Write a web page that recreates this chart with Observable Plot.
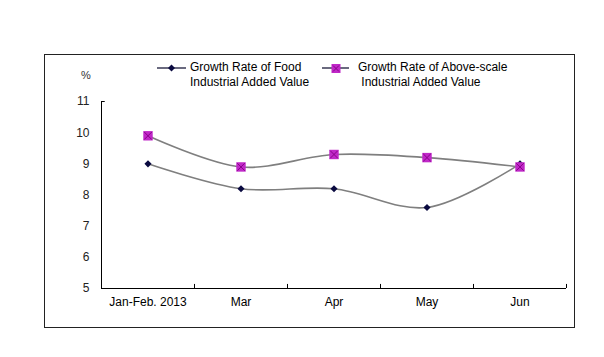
<!DOCTYPE html>
<html>
<head>
<meta charset="utf-8">
<script src="https://cdn.jsdelivr.net/npm/d3@7"></script>
<script src="https://cdn.jsdelivr.net/npm/@observablehq/plot@0.6"></script>
<style>
  html, body { margin: 0; padding: 0; background: #fff; }
  #wrap { position: relative; width: 604px; height: 357px; font-family: "Liberation Sans", Arial, sans-serif; }
  #box { position: absolute; left: 44px; top: 54px; width: 529px; height: 272px; border: 1px solid #222; box-sizing: content-box; pointer-events: none; }
  #chart { position: absolute; left: 0; top: 0; }
  .leg { position: absolute; font-size: 12px; line-height: 15px; color: #000; }
  .unit { position: absolute; left: 81px; top: 69px; font-size: 11px; color: #333; }
</style>
</head>
<body>
<div id="wrap">
  <div id="chart"></div>
  <div id="box"></div>
  <div class="unit">%</div>
  <div class="leg" style="left:157px; top:60px;">
    <svg width="30" height="14" style="position:absolute; left:0; top:1px;">
      <line x1="0" y1="7" x2="29" y2="7" stroke="#1a1a3a" stroke-width="1.3"/>
      <path d="M14.5 3.5 L18 7 L14.5 10.5 L11 7 Z" fill="#0a0a40"/>
    </svg>
    <div style="position:absolute; left:33px; top:0; white-space:nowrap;">Growth Rate of Food<br>Industrial Added Value</div>
  </div>
  <div class="leg" style="left:322px; top:60px;">
    <svg width="28" height="14" style="position:absolute; left:0; top:1px;">
      <line x1="0" y1="7" x2="27" y2="7" stroke="#1a1a3a" stroke-width="1.3"/>
      <rect x="9.5" y="3" width="9" height="9" fill="#c028c8"/>
      <path d="M11 4.5 L17 10.5 M17 4.5 L11 10.5" stroke="#8a008a" stroke-width="1"/>
    </svg>
    <div style="position:absolute; left:36px; top:0; white-space:nowrap;">Growth Rate of Above-scale<br>&nbsp;Industrial Added Value</div>
  </div>
</div>
<script>
const categories = ["Jan-Feb. 2013", "Mar", "Apr", "May", "Jun"];
const foodGrowth = [9.0, 8.2, 8.2, 7.6, 9.0];
const aboveScaleGrowth = [9.9, 8.9, 9.3, 9.2, 8.9];
const yTicks = [5, 6, 7, 8, 9, 10, 11];

const food = categories.map((c, i) => ({i, c, v: foodGrowth[i]}));
const above = categories.map((c, i) => ({i, c, v: aboveScaleGrowth[i]}));
const boundaries = categories.map((c, i) => i + 0.5);

const plot = Plot.plot({
  width: 604,
  height: 357,
  marginLeft: 101,
  marginRight: 38,
  marginTop: 101,
  marginBottom: 69,
  style: {fontFamily: "Liberation Sans, Arial, sans-serif", fontSize: "11px", background: "transparent", color: "#000"},
  x: {domain: [-0.5, categories.length - 0.5]},
  y: {domain: [5, 11]},
  marks: [
    Plot.axisX({ticks: categories.map((c, i) => i), tickFormat: i => categories[i], tickSize: 0, tickPadding: 9, label: null, fontSize: 12}),
    Plot.axisY({ticks: yTicks, tickFormat: d3.format("d"), tickSize: 0, tickPadding: 12, label: null, fontSize: 12, fill: "#222"}),
    Plot.ruleY([5], {stroke: "#000", strokeWidth: 1}),
    Plot.ruleX([-0.5], {y1: 5, y2: 11, stroke: "#000", strokeWidth: 1}),
    Plot.ruleX(boundaries, {x: d => d, y1: 5, y2: 5.13, stroke: "#000"}),
    Plot.ruleY([11], {x1: -0.5, x2: -0.46, stroke: "#000"}),
    Plot.line(food, {x: "i", y: "v", curve: "catmull-rom", stroke: "#7f7f7f", strokeWidth: 1.6}),
    Plot.line(above, {x: "i", y: "v", curve: "catmull-rom", stroke: "#7f7f7f", strokeWidth: 1.6}),
    Plot.dot(food, {x: "i", y: "v", symbol: "diamond2", r: 3.2, fill: "#0a0a40", stroke: "none"}),
    Plot.dot(above, {x: "i", y: "v", symbol: "square2", r: 6, fill: "#c028c8", stroke: "none"}),
    Plot.dot(above, {x: "i", y: "v", symbol: "times", r: 3.5, stroke: "#8a008a", strokeWidth: 1})
  ]
});
document.getElementById("chart").appendChild(plot);
</script>
</body>
</html>
